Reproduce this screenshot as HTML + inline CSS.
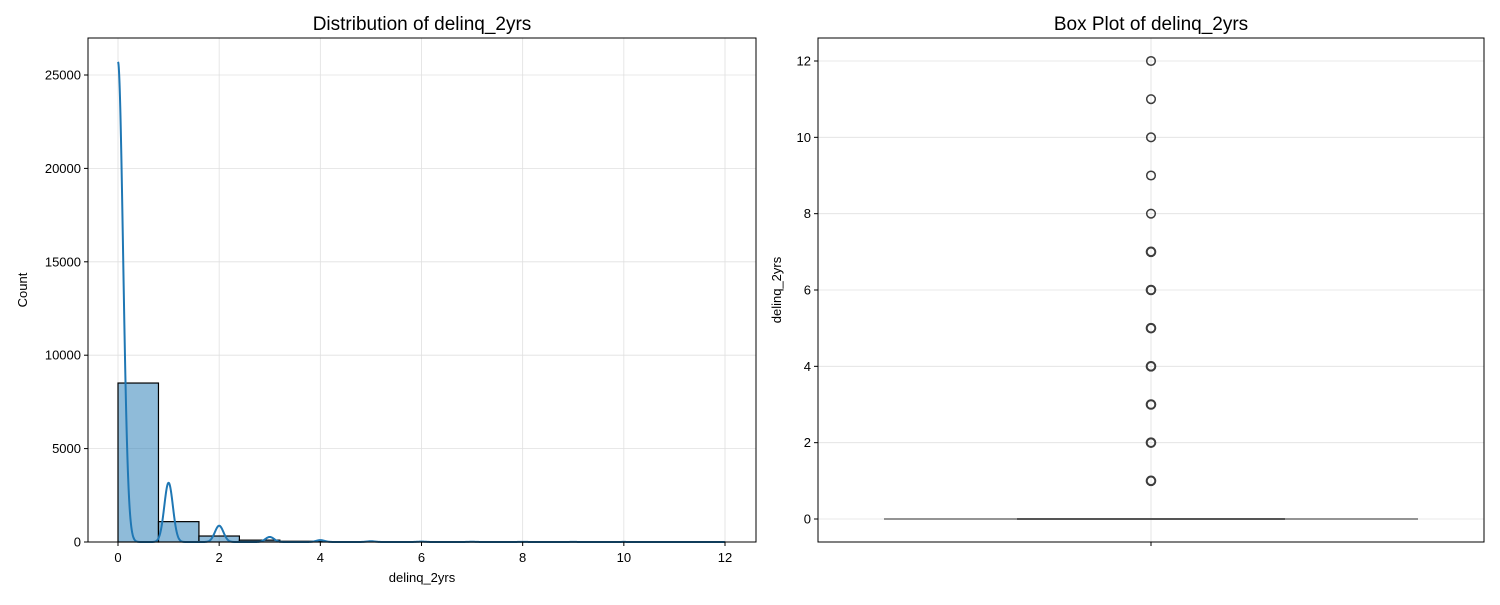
<!DOCTYPE html>
<html><head><meta charset="utf-8"><style>
body{margin:0;background:#fff;font-family:"Liberation Sans","DejaVu Sans",sans-serif}
svg text{font-family:"Liberation Sans","DejaVu Sans",sans-serif}
</style></head><body>
<svg id="c" width="1500" height="600" xmlns="http://www.w3.org/2000/svg">
<rect width="1500" height="600" fill="#fff"/>
</svg>
<script>
const binEdges=[0,0.8,1.6,2.4,3.2,4,4.8,5.6,6.4,7.2,8,8.8,9.6,10.4,11.2,12];
const binCounts=[8510,1090,320,100,40,20,10,5,4,3,2,2,2,1,1];
const kdeCenters=[0,1,2,3,4,5,6,7,8,9,10,11,12];
const kdeHeights=[25700,3170,870,270,100,40,20,12,8,5,4,3,3];
const xTicks=[0,2,4,6,8,10,12];
const yTicks=[0,5000,10000,15000,20000,25000];
const boxTicks=[0,2,4,6,8,10,12];
const outliers=[1,2,3,4,5,6,7,8,9,10,11,12];

const svg=document.getElementById('c');
const NS='http://www.w3.org/2000/svg';
function mk(tag,attrs,parent){const e=document.createElementNS(NS,tag);for(const k in attrs)e.setAttribute(k,attrs[k]);(parent||svg).appendChild(e);return e;}
const L={x0:88,x1:756,y0:38,y1:542};
const lx=v=>118+v*(725-118)/12;
const ly=v=>542-v*(542-75)/25000;
const R={x0:818,x1:1484,y0:38,y1:542};
const ry=v=>519-v*(519-61)/12;

const gl=mk('g',{});


xTicks.forEach(t=>{const l=mk('line',{x1:lx(t),x2:lx(t),y1:L.y0,y2:L.y1,stroke:'#e0e0e0','stroke-width':0.8},gl);});
yTicks.forEach(t=>{const l=mk('line',{x1:L.x0,x2:L.x1,y1:ly(t),y2:ly(t),stroke:'#e0e0e0','stroke-width':0.8},gl);});
binCounts.forEach((c,i)=>{const x=lx(binEdges[i]),w=lx(binEdges[i+1])-x;const r=mk('rect',{x:x,y:ly(c),width:w,height:542-ly(c),fill:'rgba(31,119,180,0.5)',stroke:'#000','stroke-width':1.2},gl);});
let d='';
for(let v=0;v<=12;v+=0.005){let s=0;kdeCenters.forEach((c,i)=>{const sg=i===0?0.1:0.085;s+=kdeHeights[i]*Math.exp(-0.5*((v-c)/sg)**2);});d+=(d?'L':'M')+lx(v).toFixed(2)+','+ly(s).toFixed(2);}
const kp=mk('path',{d:d,fill:'none',stroke:'#1f77b4','stroke-width':2},gl);


mk('rect',{x:L.x0,y:L.y0,width:L.x1-L.x0,height:L.y1-L.y0,fill:'none',stroke:'#000','stroke-width':1},gl);
xTicks.forEach(t=>{mk('line',{x1:lx(t),x2:lx(t),y1:542,y2:546,stroke:'#000'},gl);const tx=mk('text',{x:lx(t),y:562,'text-anchor':'middle','font-size':13},gl);tx.textContent=t;});
yTicks.forEach(t=>{mk('line',{x1:84,x2:88,y1:ly(t),y2:ly(t),stroke:'#000'},gl);const tx=mk('text',{x:81,y:ly(t)+4.5,'text-anchor':'end','font-size':13},gl);tx.textContent=t;});
let t1=mk('text',{x:422,y:30,'text-anchor':'middle','font-size':19},gl);t1.textContent='Distribution of delinq_2yrs';

let t2=mk('text',{x:422,y:582,'text-anchor':'middle','font-size':13},gl);t2.textContent='delinq_2yrs';

let t3=mk('text',{x:27,y:290,'text-anchor':'middle','font-size':13,transform:'rotate(-90 27 290)'},gl);t3.textContent='Count';


const gr=mk('g',{});


mk('line',{x1:1151,x2:1151,y1:R.y0,y2:R.y1,stroke:'#e0e0e0','stroke-width':0.8},gr);
boxTicks.forEach(t=>{mk('line',{x1:R.x0,x2:R.x1,y1:ry(t),y2:ry(t),stroke:'#e0e0e0','stroke-width':0.8},gr);});
let wl=mk('line',{x1:884,x2:1418,y1:ry(0),y2:ry(0),stroke:'#555','stroke-width':1.3},gr);

let ml=mk('line',{x1:1017,x2:1285,y1:ry(0),y2:ry(0),stroke:'#555','stroke-width':2},gr);

outliers.forEach(v=>{const c=mk('circle',{cx:1151,cy:ry(v),r:4.3,fill:'none',stroke:'#3d3d3d','stroke-width':v<=7?2:1.5},gr);});
mk('rect',{x:R.x0,y:R.y0,width:R.x1-R.x0,height:R.y1-R.y0,fill:'none',stroke:'#000','stroke-width':1},gr);
mk('line',{x1:1151,x2:1151,y1:542,y2:546,stroke:'#000'},gr);
boxTicks.forEach(t=>{mk('line',{x1:814,x2:818,y1:ry(t),y2:ry(t),stroke:'#000'},gr);const tx=mk('text',{x:811,y:ry(t)+4.5,'text-anchor':'end','font-size':13},gr);tx.textContent=t;});
let t4=mk('text',{x:1151,y:30,'text-anchor':'middle','font-size':19},gr);t4.textContent='Box Plot of delinq_2yrs';

let t5=mk('text',{x:781,y:290,'text-anchor':'middle','font-size':13,transform:'rotate(-90 781 290)'},gr);t5.textContent='delinq_2yrs';

</script>
</body></html>
